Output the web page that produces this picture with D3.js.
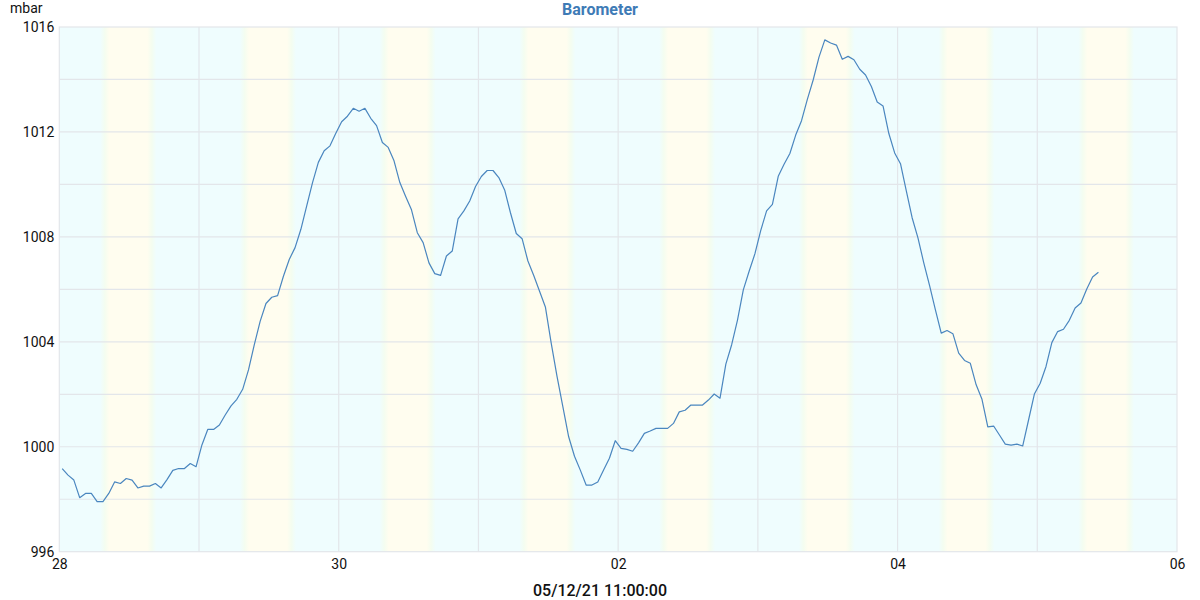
<!DOCTYPE html>
<html>
<head>
<meta charset="utf-8">
<script src="https://cdn.jsdelivr.net/npm/d3@7"></script>
<style>
  html, body { margin: 0; padding: 0; background: #ffffff; }
  svg { display: block; font-family: Roboto, "Noto Sans", sans-serif; }
</style>
</head>
<body>
<svg id="chart" width="1200" height="600"></svg>
<script>
// ---- data ----
const chartTitle = "Barometer";
const unitLabel = "mbar";
const footerLabel = "05/12/21 11:00:00";
const firstReading = "2021-11-28T00:30:00"; // hourly readings from here
const xDomain = ["2021-11-28T00:00:00", "2021-12-06T00:00:00"];
const xTickDates = ["2021-11-28T00:00:00", "2021-11-30T00:00:00", "2021-12-02T00:00:00",
  "2021-12-04T00:00:00", "2021-12-06T00:00:00"];
const yDomain = [996, 1016];
const yTickValues = [996, 1000, 1004, 1008, 1012, 1016];
const yGridValues = [998, 1000, 1002, 1004, 1006, 1008, 1010, 1012, 1014];
const daylightStartHour = 7.65;
const daylightEndHour = 16.05;

const pressureNov28 = [999.17, 998.92, 998.73, 998.06, 998.22, 998.22, 997.91, 997.91, 998.22, 998.66,
  998.6, 998.79, 998.73, 998.43, 998.5, 998.5, 998.6, 998.43, 998.75, 999.1,
  999.17, 999.17, 999.36, 999.24];
const pressureNov29 = [1000.07, 1000.66, 1000.66, 1000.83, 1001.21, 1001.56,
  1001.81, 1002.19, 1002.93, 1003.89, 1004.78, 1005.46, 1005.7, 1005.76, 1006.5, 1007.14,
  1007.59, 1008.29, 1009.18, 1010.07, 1010.84, 1011.28, 1011.47, 1011.95];
const pressureNov30 = [1012.39, 1012.6, 1012.9, 1012.79, 1012.9, 1012.52, 1012.24, 1011.6, 1011.41, 1010.9, 1010.07,
  1009.54, 1009.03, 1008.16, 1007.78, 1007.01, 1006.6, 1006.53, 1007.27, 1007.46, 1008.69,
  1008.99, 1009.37, 1009.92];
const pressureDec01 = [1010.3, 1010.53, 1010.53, 1010.26, 1009.79, 1008.92, 1008.13,
  1007.93, 1007.08, 1006.53, 1005.93, 1005.33, 1003.95, 1002.68, 1001.53, 1000.38, 999.64,
  999.11, 998.54, 998.54, 998.66, 999.11, 999.56, 1000.23];
const pressureDec02 = [999.94, 999.9, 999.83, 1000.15, 1000.51, 1000.6, 1000.7, 1000.7, 1000.7, 1000.89, 1001.33,
  1001.39, 1001.59, 1001.59, 1001.59, 1001.78, 1002.01, 1001.85, 1003.15, 1003.89, 1004.83,
  1005.98, 1006.69, 1007.36];
const pressureDec03 = [1008.25, 1008.99, 1009.24, 1010.31, 1010.77, 1011.18, 1011.88,
  1012.43, 1013.24, 1013.98, 1014.85, 1015.51, 1015.39, 1015.31, 1014.77, 1014.88, 1014.75,
  1014.39, 1014.17, 1013.73, 1013.14, 1012.99, 1011.94, 1011.2];
const pressureDec04 = [1010.79, 1009.75, 1008.73, 1007.96, 1007.01, 1006.14, 1005.22, 1004.33, 1004.43, 1004.31,
  1003.57, 1003.29, 1003.18, 1002.36, 1001.81, 1000.76, 1000.79, 1000.45, 1000.1, 1000.06,
  1000.1, 1000.03, 1001.02, 1002.01];
const pressureDec05 = [1002.42, 1003.06, 1003.97, 1004.39, 1004.48, 1004.82,
  1005.29, 1005.48, 1006.01, 1006.47, 1006.65];

const pressure = [].concat(pressureNov28, pressureNov29, pressureNov30, pressureDec01,
  pressureDec02, pressureDec03, pressureDec04, pressureDec05);

// ---- layout ----
const svg = d3.select("#chart");
const plotLeft = 59.3, plotRight = 1177, plotTop = 27, plotBottom = 551.7;
const t0 = new Date(firstReading);
const HOUR = 3600 * 1000;
const data = pressure.map((v, i) => ({ t: new Date(t0.getTime() + i * HOUR), v }));

const x = d3.scaleTime().domain(xDomain.map(s => new Date(s))).range([plotLeft, plotRight]);
const y = d3.scaleLinear().domain(yDomain).range([plotBottom, plotTop]);

const defs = svg.append("defs");
const cyan = "#effdfe", yellow = "#fffdef";
const grad = defs.append("linearGradient").attr("id", "dayGrad")
  .attr("x1", "0%").attr("x2", "100%").attr("y1", "0%").attr("y2", "0%");
[[0, cyan], [0.08, "#f4fdf0"], [0.16, yellow], [0.84, yellow], [0.92, "#f4fdf0"], [1, cyan]]
  .forEach(([o, c]) => grad.append("stop").attr("offset", o).attr("stop-color", c));

// plot background
svg.append("rect").attr("x", plotLeft).attr("y", plotTop)
  .attr("width", plotRight - plotLeft).attr("height", plotBottom - plotTop).attr("fill", cyan);

// daylight bands
const days = d3.timeDay.range(x.domain()[0], x.domain()[1]);
const fade = 0.6;
const bandStart = d => x(new Date(d.getTime() + (daylightStartHour - fade) * HOUR));
const bandEnd = d => x(new Date(d.getTime() + (daylightEndHour + fade) * HOUR));
svg.append("g").selectAll("rect").data(days).join("rect")
  .attr("x", bandStart)
  .attr("width", d => bandEnd(d) - bandStart(d))
  .attr("y", plotTop).attr("height", plotBottom - plotTop)
  .attr("fill", "url(#dayGrad)");

// grid
const gridColor = "#e3e6ea";
svg.append("g").selectAll("line").data(yGridValues).join("line")
  .attr("x1", plotLeft).attr("x2", plotRight)
  .attr("y1", d => y(d)).attr("y2", d => y(d))
  .attr("stroke", gridColor).attr("stroke-width", 1.2);
svg.append("g").selectAll("line").data(d3.timeDay.range(d3.timeDay.offset(x.domain()[0], 1), x.domain()[1])).join("line")
  .attr("x1", d => x(d)).attr("x2", d => x(d))
  .attr("y1", plotTop).attr("y2", plotBottom)
  .attr("stroke", gridColor).attr("stroke-width", 1.2);

// frame
svg.append("rect").attr("x", plotLeft).attr("y", plotTop)
  .attr("width", plotRight - plotLeft).attr("height", plotBottom - plotTop)
  .attr("fill", "none").attr("stroke", gridColor).attr("stroke-width", 1.2);

// line
const line = d3.line().x(d => x(d.t)).y(d => y(d.v));
svg.append("path").datum(data)
  .attr("d", line)
  .attr("fill", "none")
  .attr("stroke", "#4a86bf")
  .attr("stroke-width", 1.2)
  .attr("stroke-linejoin", "round");

// axes
const yAxis = d3.axisLeft(y).tickValues(yTickValues).tickSize(0).tickPadding(5).tickFormat(d3.format("d"));
const gy = svg.append("g").attr("transform", `translate(${plotLeft},0)`).call(yAxis);
gy.select(".domain").remove();
gy.selectAll("text").attr("font-size", 14).attr("fill", "#111").attr("font-family", "Roboto");

const xAxis = d3.axisBottom(x).tickValues(xTickDates.map(s => new Date(s)))
  .tickSize(0).tickPadding(7).tickFormat(d3.timeFormat("%d"));
const gx = svg.append("g").attr("transform", `translate(0,${plotBottom})`).call(xAxis);
gx.select(".domain").remove();
gx.selectAll("text").attr("font-size", 14).attr("fill", "#111").attr("font-family", "Roboto");

// texts
svg.append("text").attr("x", 10).attr("y", 13).attr("font-size", 14).attr("fill", "#111").text(unitLabel);
svg.append("text").attr("x", 600).attr("y", 15).attr("text-anchor", "middle")
  .attr("font-size", 16).attr("font-weight", "bold").attr("fill", "#3e7bb6").text(chartTitle);
svg.append("text").attr("x", 600).attr("y", 596).attr("text-anchor", "middle")
  .attr("font-size", 16).attr("font-weight", 500).attr("fill", "#111").text(footerLabel);
</script>
</body>
</html>
